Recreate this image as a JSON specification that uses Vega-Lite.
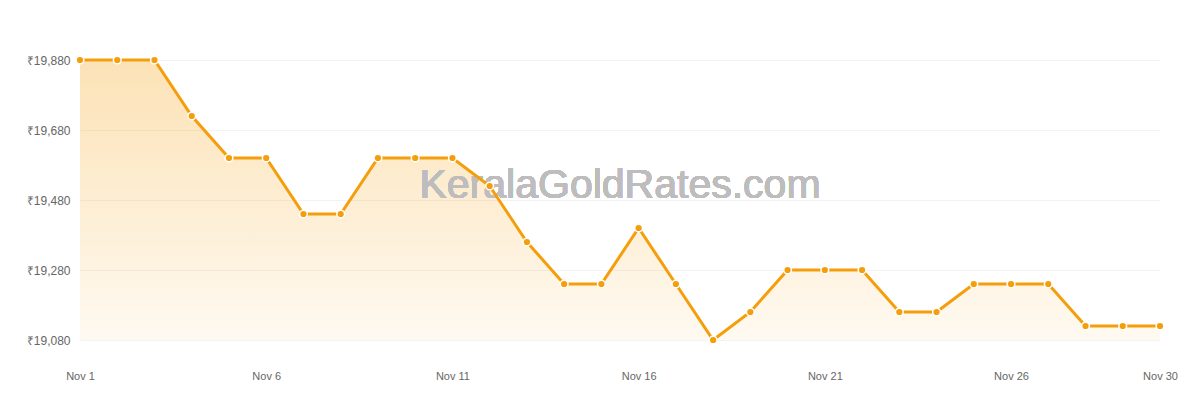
{
  "$schema": "https://vega.github.io/schema/vega-lite/v6.json",
  "width": 1080,
  "height": 280,
  "autosize": {"type": "none"},
  "padding": {"left": 80, "top": 60, "right": 40, "bottom": 60},
  "background": "white",
  "config": {
    "view": {"stroke": "transparent"},
    "font": "Liberation Sans"
  },
  "data": {
    "values": [
      {"day": 1, "rate": 19880},
      {"day": 2, "rate": 19880},
      {"day": 3, "rate": 19880},
      {"day": 4, "rate": 19720},
      {"day": 5, "rate": 19600},
      {"day": 6, "rate": 19600},
      {"day": 7, "rate": 19440},
      {"day": 8, "rate": 19440},
      {"day": 9, "rate": 19600},
      {"day": 10, "rate": 19600},
      {"day": 11, "rate": 19600},
      {"day": 12, "rate": 19520},
      {"day": 13, "rate": 19360},
      {"day": 14, "rate": 19240},
      {"day": 15, "rate": 19240},
      {"day": 16, "rate": 19400},
      {"day": 17, "rate": 19240},
      {"day": 18, "rate": 19080},
      {"day": 19, "rate": 19160},
      {"day": 20, "rate": 19280},
      {"day": 21, "rate": 19280},
      {"day": 22, "rate": 19280},
      {"day": 23, "rate": 19160},
      {"day": 24, "rate": 19160},
      {"day": 25, "rate": 19240},
      {"day": 26, "rate": 19240},
      {"day": 27, "rate": 19240},
      {"day": 28, "rate": 19120},
      {"day": 29, "rate": 19120},
      {"day": 30, "rate": 19120}
    ]
  },
  "encoding": {
    "x": {
      "field": "day",
      "type": "quantitative",
      "scale": {"domain": [1, 30], "nice": false, "zero": false},
      "axis": {
        "title": null,
        "values": [1, 6, 11, 16, 21, 26, 30],
        "labelExpr": "'Nov ' + datum.value",
        "grid": false,
        "domain": false,
        "ticks": false,
        "labelPadding": 30,
        "labelFontSize": 11,
        "labelColor": "#666666",
        "labelFlush": false
      }
    },
    "y": {
      "field": "rate",
      "type": "quantitative",
      "scale": {"domain": [19080, 19880], "nice": false, "zero": false},
      "axis": {
        "title": null,
        "values": [19080, 19280, 19480, 19680, 19880],
        "labelExpr": "'₹' + format(datum.value, ',')",
        "grid": true,
        "gridColor": "#f3f3f3",
        "domain": false,
        "ticks": false,
        "labelPadding": 10,
        "labelFontSize": 12,
        "labelColor": "#666666"
      }
    }
  },
  "layer": [
    {
      "mark": {
        "type": "area",
        "fill": {
          "x1": 0, "y1": 0, "x2": 0, "y2": 1,
          "gradient": "linear",
          "stops": [
            {"offset": 0, "color": "rgba(245,158,11,0.30)"},
            {"offset": 1, "color": "rgba(245,158,11,0.06)"}
          ]
        }
      },
      "encoding": {"y2": {"datum": 19080}}
    },
    {
      "mark": {
        "type": "text",
        "text": "KeralaGoldRates.com",
        "fontSize": 41,
        "color": "#bdbdbd",
        "opacity": 0.55,
        "align": "center",
        "baseline": "middle"
      },
      "encoding": {
        "x": {"datum": 15.5},
        "y": {"datum": 19520}
      }
    },
    {
      "mark": {"type": "line", "color": "#F59E0B", "strokeWidth": 3}
    },
    {
      "mark": {
        "type": "point",
        "filled": true,
        "fill": "#F59E0B",
        "stroke": "white",
        "strokeWidth": 1.5,
        "size": 60,
        "opacity": 1
      }
    }
  ]
}
